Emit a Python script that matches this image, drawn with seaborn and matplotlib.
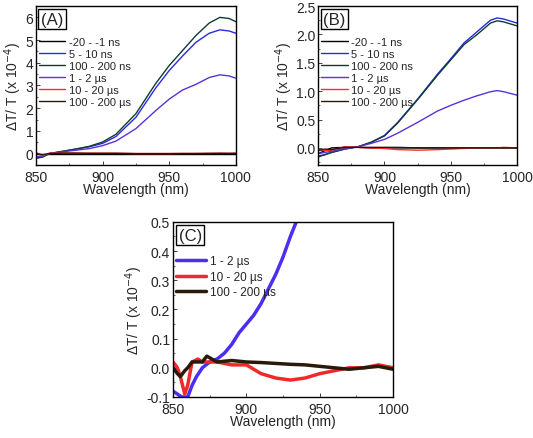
import matplotlib
matplotlib.use("Agg")
import matplotlib.pyplot as plt
import numpy as np
import pandas as pd
import seaborn as sns
from matplotlib.ticker import AutoMinorLocator

# ---- panel A data (x 1e-4) ----
wl_a = [850, 855, 860, 870, 880, 890, 900, 910, 925, 940, 950, 960, 970, 980, 988, 995, 1000]
a_m20_1ns = [0.0] * len(wl_a)
a_5_10ns = [-0.2, -0.15, 0.0, 0.1, 0.2, 0.3, 0.45, 0.75, 1.6, 2.9, 3.66, 4.3, 4.9, 5.3, 5.45, 5.4, 5.3]
a_100_200ns = [-0.2, -0.15, 0.0, 0.1, 0.2, 0.32, 0.51, 0.85, 1.76, 3.1, 3.88, 4.54, 5.2, 5.75, 6.0, 5.95, 5.81]
a_1_2us = [-0.15, -0.1, 0.0, 0.08, 0.15, 0.22, 0.35, 0.55, 1.1, 1.9, 2.4, 2.8, 3.05, 3.35, 3.47, 3.42, 3.32]
a_10_20us = [0.05, -0.1, 0.02, 0.03, 0.02, 0.02, 0.02, 0.02, 0.0, 0.0, 0.0, 0.01, 0.01, 0.01, 0.02, 0.01, 0.02]
a_100_200us = [0.0, -0.05, 0.0, 0.02, 0.02, 0.01, 0.01, 0.01, 0.0, 0.0, 0.0, 0.0, 0.0, 0.01, 0.01, 0.01, 0.01]

# ---- panel B data ----
wl_b = [850, 855, 860, 870, 880, 890, 900, 910, 925, 940, 950, 960, 970, 980, 985, 990, 1000]
b_m20_1ns = [-0.1, -0.05, 0.0, 0.01, 0.01, 0.0, 0.0, 0.0, 0.0, 0.0, 0.0, 0.0, 0.0, 0.0, 0.0, 0.0, 0.0]
b_5_10ns = [-0.14, -0.12, -0.08, -0.02, 0.02, 0.1, 0.22, 0.45, 0.86, 1.3, 1.57, 1.85, 2.05, 2.25, 2.29, 2.27, 2.2]
b_100_200ns = [-0.16, -0.12, -0.08, -0.02, 0.02, 0.1, 0.21, 0.44, 0.85, 1.28, 1.55, 1.82, 2.0, 2.2, 2.24, 2.22, 2.15]
b_1_2us = [-0.1, -0.08, -0.06, -0.01, 0.02, 0.08, 0.15, 0.26, 0.45, 0.65, 0.75, 0.84, 0.92, 0.99, 1.01, 0.99, 0.93]
b_10_20us = [-0.02, -0.05, -0.04, 0.02, 0.01, 0.0, -0.01, -0.03, -0.04, -0.03, -0.02, -0.01, 0.0, 0.0, 0.0, 0.01, 0.0]
b_100_200us = [-0.05, -0.02, -0.03, 0.01, 0.01, 0.01, 0.01, 0.01, 0.0, 0.0, 0.0, 0.0, 0.0, 0.0, 0.0, 0.0, 0.0]

# ---- panel C data ----
wl_c_blue = [850, 853, 856, 858, 860, 863, 866, 870, 875, 880, 885, 890, 895, 900, 905, 910, 915, 920, 925, 930, 934]
c_1_2us = [-0.08, -0.09, -0.1, -0.1, -0.1, -0.06, -0.03, 0.0, 0.02, 0.03, 0.05, 0.08, 0.12, 0.15, 0.18, 0.22, 0.27, 0.32, 0.38, 0.45, 0.5]
wl_c = [850, 853, 855, 858, 860, 863, 867, 870, 873, 880, 890, 900, 910, 920, 930, 940, 950, 960, 970, 980, 990, 1000]
c_10_20us = [0.02, 0.0, -0.03, -0.09, -0.06, 0.02, 0.03, 0.02, 0.02, 0.02, 0.01, 0.01, -0.02, -0.035, -0.042, -0.035, -0.02, -0.01, 0.0, 0.0, 0.01, 0.0]
c_100_200us = [0.0, -0.02, -0.03, -0.01, 0.0, 0.02, 0.02, 0.02, 0.04, 0.02, 0.025, 0.02, 0.018, 0.015, 0.012, 0.01, 0.005, 0.0, -0.005, 0.0, 0.005, -0.005]

labels = ["-20 - -1 ns", "5 - 10 ns", "100 - 200 ns", "1 - 2 \u00b5s", "10 - 20 \u00b5s", "100 - 200 \u00b5s"]
colors = ["#000000", "#2a2ae0", "#0d3d2e", "#5a32d8", "#ff2a2a", "#2a1608"]

sns.set_theme(style="ticks")
plt.rcParams["font.family"] = ["Liberation Sans", "DejaVu Sans"]
plt.rcParams["xtick.direction"] = "in"
plt.rcParams["ytick.direction"] = "in"

fig = plt.figure(figsize=(5.33, 4.39), dpi=100)
ax_a = fig.add_axes([0.0675, 0.622, 0.375, 0.362])
ax_b = fig.add_axes([0.597, 0.622, 0.373, 0.362])
ax_c = fig.add_axes([0.3246, 0.0934, 0.413, 0.399])


def style_axis(ax, ylim, yticks, fmt, tag):
    ax.set_xlim(850, 1000)
    ax.set_ylim(*ylim)
    ax.set_xticks([850, 900, 950, 1000])
    ax.set_yticks(yticks)
    ax.set_yticklabels([fmt.format(v) for v in yticks])
    ax.xaxis.set_minor_locator(AutoMinorLocator(2))
    ax.yaxis.set_minor_locator(AutoMinorLocator(2))
    ax.tick_params(which="major", length=3, width=0.6, labelsize=10, pad=2)
    ax.tick_params(axis="x", which="major", pad=3.5)
    ax.tick_params(which="minor", length=1.5, width=0.5)
    for s in ax.spines.values():
        s.set_visible(True)
        s.set_linewidth(1.0)
        s.set_color("black")
    ax.set_xlabel("Wavelength (nm)", fontsize=10, labelpad=-1)
    ax.set_ylabel("\u0394T/ T (x 10$^{-4}$)", fontsize=10, labelpad=1)
    ax.text(0.025, 0.965, tag, transform=ax.transAxes, fontsize=12, va="top", ha="left",
            bbox=dict(boxstyle="square,pad=0.15", fc="white", ec="black", lw=1.0))


a_series = [a_m20_1ns, a_5_10ns, a_100_200ns, a_1_2us, a_10_20us, a_100_200us]
for lab, col, vals in zip(labels, colors, a_series):
    sns.lineplot(x=wl_a, y=vals, color=col, label=lab, lw=1.0, ax=ax_a)
style_axis(ax_a, (-0.5, 6.5), [0, 1, 2, 3, 4, 5, 6], "{:.0f}", "(A)")

b_series = [b_m20_1ns, b_5_10ns, b_100_200ns, b_1_2us, b_10_20us, b_100_200us]
for lab, col, vals in zip(labels, colors, b_series):
    sns.lineplot(x=wl_b, y=vals, color=col, label=lab, lw=1.0, ax=ax_b)
style_axis(ax_b, (-0.3, 2.5), [0.0, 0.5, 1.0, 1.5, 2.0, 2.5], "{:.1f}", "(B)")

sns.lineplot(x=wl_c_blue, y=c_1_2us, color="#4a2ff0", label=labels[3], lw=2.5, ax=ax_c)
sns.lineplot(x=wl_c, y=c_10_20us, color="#f02a2a", label=labels[4], lw=2.5, ax=ax_c)
sns.lineplot(x=wl_c, y=c_100_200us, color="#2a1a0a", label=labels[5], lw=2.5, ax=ax_c)
style_axis(ax_c, (-0.1, 0.5), [-0.1, 0.0, 0.1, 0.2, 0.3, 0.4, 0.5], "{:.1f}", "(C)")

for ax in (ax_a, ax_b):
    ax.legend(loc="upper left", bbox_to_anchor=(-0.02, 0.85), frameon=False, fontsize=8,
              handlelength=2.4, handletextpad=0.3, labelspacing=0.18, borderaxespad=0.2)
ax_c.legend(loc="upper left", bbox_to_anchor=(-0.02, 0.85), frameon=False, fontsize=8.5,
            handlelength=2.6, handletextpad=0.3, labelspacing=0.3, borderaxespad=0.2)

fig.savefig("out.png", dpi=100)
